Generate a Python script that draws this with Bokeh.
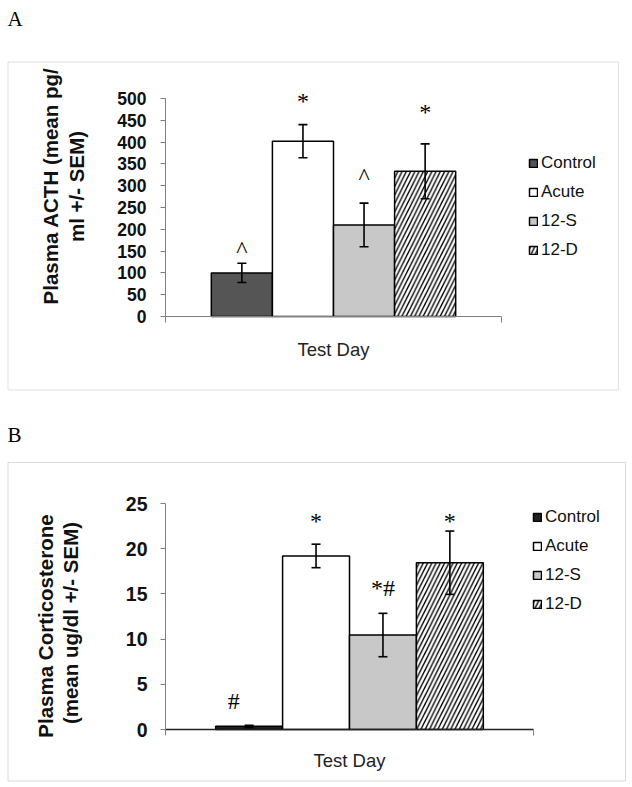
import math
from bokeh.plotting import figure
from bokeh.models import (ColumnDataSource, Range1d, FixedTicker, Whisker, TeeHead,
                          Label, BoxAnnotation, Legend, LegendItem)
from bokeh.layouts import column
from bokeh.embed import file_html
from bokeh.resources import INLINE
from bokeh.core.properties import value

# ---------------- data ----------------
groups = ["Control", "Acute", "12-S", "12-D"]
category_label = "Test Day"

acth_mean = [100, 402, 210, 333]
acth_sem = [22, 38, 50, 63]
acth_ticks = [0, 50, 100, 150, 200, 250, 300, 350, 400, 450, 500]
acth_marks = ["^", "*", "^", "*"]
acth_mark_y = [155, 494, 323, 470]
acth_ylabel = ["Plasma ACTH (mean pg/", "ml +/- SEM)"]

cort_mean = [0.35, 19.2, 10.45, 18.45]
cort_sem = [0.12, 1.3, 2.4, 3.5]
cort_ticks = [0, 5, 10, 15, 20, 25]
cort_marks = ["#", "*", "*#", "*"]
cort_mark_y = [3.1, 23.1, 15.6, 23.1]
cort_ylabel = ["Plasma Corticosterone", "(mean ug/dl +/- SEM)"]

# ---------------- layout / style ----------------
FIG_W = 632
GAP = 0.75  # Excel gap (150% of a bar width split on both sides)


def make_panel(means, sems, ticks, marks, mark_y, mark_dx, ylabel, letter, cfg):
    fig_top, fig_h = cfg["fig_top"], cfg["fig_h"]
    fig_bottom = fig_top + fig_h
    al, ar, at, ab = cfg["axes"]  # page px of x=0, x=xmax, y=ymax, y=0
    n = len(groups)
    xmax = 2 * GAP + n
    ymax = ticks[-1]
    kx = (ar - al) / xmax
    ky = (ab - at) / ymax
    p = figure(width=FIG_W, height=fig_h,
               x_range=Range1d(-al / kx, (FIG_W - al) / kx),
               y_range=Range1d(-(fig_bottom - ab) / ky, ymax + (at - fig_top) / ky),
               output_backend="svg", toolbar_location=None,
               min_border=0, min_border_left=0, min_border_right=0,
               min_border_top=0, min_border_bottom=0)
    p.outline_line_color = None
    p.xgrid.visible = False
    p.ygrid.visible = False
    p.background_fill_color = "white"
    p.border_fill_color = "white"

    def sx(x):
        return x

    def sy(y):
        return fig_bottom - y

    # panel box
    bl, bt, br, bb = cfg["box"]
    p.add_layout(BoxAnnotation(left=sx(bl), right=sx(br), top=sy(bt), bottom=sy(bb),
                               left_units="screen", right_units="screen",
                               top_units="screen", bottom_units="screen",
                               fill_alpha=0, fill_color=None,
                               line_color=cfg["box_color"], line_width=1,
                               level="underlay"))

    xs = [GAP + i + 0.5 for i in range(n)]
    src = ColumnDataSource(dict(
        x=xs, top=means,
        upper=[m + s for m, s in zip(means, sems)],
        lower=[m - s for m, s in zip(means, sems)],
        fill=cfg["fills"], hatch=[" ", " ", " ", "/"], label=groups))
    r = p.vbar(x="x", top="top", width=1.0, source=src, fill_color="fill",
               line_color="black", line_width=1.5, hatch_pattern="hatch",
               hatch_color="black", hatch_weight=1.4, hatch_scale=8.5)

    w = Whisker(source=src, base="x", upper="upper", lower="lower",
                line_color="black", line_width=1.6, level="overlay",
                upper_head=TeeHead(size=9, line_color="black", line_width=1.6),
                lower_head=TeeHead(size=9, line_color="black", line_width=1.6))
    p.add_layout(w)

    p.text(x=[x + d for x, d in zip(xs, mark_dx)], y=mark_y, text=marks,
           text_font=value("Liberation Serif"), text_font_size="24px",
           text_align="center", text_baseline="alphabetic", text_color="black")

    ya = p.yaxis[0]
    ya.fixed_location = 0
    ya.bounds = (0, ymax)
    ya.ticker = FixedTicker(ticks=ticks, minor_ticks=[])
    ya.major_tick_in = 0
    ya.major_tick_out = 5
    ya.minor_tick_in = 0
    ya.minor_tick_out = 0
    ya.axis_line_color = "#808080"
    ya.major_tick_line_color = "#808080"
    ya.major_label_text_font = "Liberation Sans"
    ya.major_label_text_font_style = "bold"
    ya.major_label_text_font_size = cfg["ytick_size"]
    ya.major_label_text_color = "#111111"
    ya.major_label_standoff = cfg["ytick_standoff"]

    xa = p.xaxis[0]
    xa.fixed_location = 0
    xa.bounds = (0, xmax)
    xa.ticker = FixedTicker(ticks=[xmax / 2], minor_ticks=[0, xmax])
    xa.major_label_overrides = {xmax / 2: category_label}
    xa.major_tick_in = 0
    xa.major_tick_out = 0
    xa.minor_tick_in = 0
    xa.minor_tick_out = 6
    xa.axis_line_color = cfg["xaxis_color"]
    xa.axis_line_width = cfg["xaxis_width"]
    xa.minor_tick_line_color = "#808080"
    xa.major_label_text_font = "Liberation Sans"
    xa.major_label_text_font_size = "18.5px"
    xa.major_label_text_color = "#222222"
    xa.major_label_standoff = cfg["xlabel_standoff"]

    # y axis title (two lines, rotated)
    for (bx, cy), txt in zip(cfg["ylab_pos"], ylabel):
        p.add_layout(Label(x=sx(bx), y=sy(cy), x_units="screen", y_units="screen",
                           text=txt, angle=math.pi / 2, text_align="center",
                           text_baseline="alphabetic", text_font="Liberation Sans",
                           text_font_style="bold", text_font_size="20.5px",
                           text_color="#111111"))

    # panel letter
    lx, ly = cfg["letter_pos"]
    p.add_layout(Label(x=sx(lx), y=sy(ly), x_units="screen", y_units="screen",
                       text=letter, text_font="Liberation Serif",
                       text_font_size="21px", text_color="black",
                       text_baseline="alphabetic"))

    # legend
    items = [LegendItem(label=g, renderers=[r], index=i) for i, g in enumerate(groups)]
    item_h, spacing = 20, 9
    leg_h = len(groups) * item_h + (len(groups) - 1) * spacing
    lgx, lgy = cfg["legend_topleft"]
    leg = Legend(items=items, location=(sx(lgx), sy(lgy + leg_h)),
                 glyph_width=10, glyph_height=10, label_height=item_h,
                 label_standoff=3, spacing=spacing, padding=0, margin=0,
                 border_line_color=None, background_fill_alpha=0,
                 label_text_font="Liberation Sans", label_text_font_size="17px",
                 label_text_color="#111111")
    p.add_layout(leg)
    return p


cfg_a = dict(fig_top=0, fig_h=400, axes=(165, 501, 98, 316),
             fills=["#555555", "#ffffff", "#c8c8c8", "#ffffff"],
             ytick_size="17.5px", ytick_standoff=14,
             xaxis_color="#808080", xaxis_width=1, xlabel_standoff=16,
             ylab_pos=[(50, 185.5), (76, 186)],
             letter_pos=(7, 18), box=(7.5, 61.5, 618, 389.5), box_color="#999999",
             legend_topleft=(528, 153))
cfg_b = dict(fig_top=400, fig_h=387, axes=(165, 533, 503, 729),
             fills=["#222222", "#ffffff", "#c8c8c8", "#ffffff"],
             ytick_size="19.5px", ytick_standoff=13,
             xaxis_color="#222222", xaxis_width=1.5, xlabel_standoff=14,
             ylab_pos=[(44.5, 625.5), (70, 622.5)],
             letter_pos=(7, 434), box=(7.5, 462, 625, 780.5), box_color="#888888",
             legend_topleft=(532, 507))

pa = make_panel(acth_mean, acth_sem, acth_ticks, acth_marks, acth_mark_y,
                [0, 0, 0, 0], acth_ylabel, "A", cfg_a)
pb = make_panel(cort_mean, cort_sem, cort_ticks, cort_marks, cort_mark_y,
                [-0.23, 0, 0, 0], cort_ylabel, "B", cfg_b)

layout = column(pa, pb, spacing=0)
open("out.html", "w").write(file_html(layout, INLINE))
